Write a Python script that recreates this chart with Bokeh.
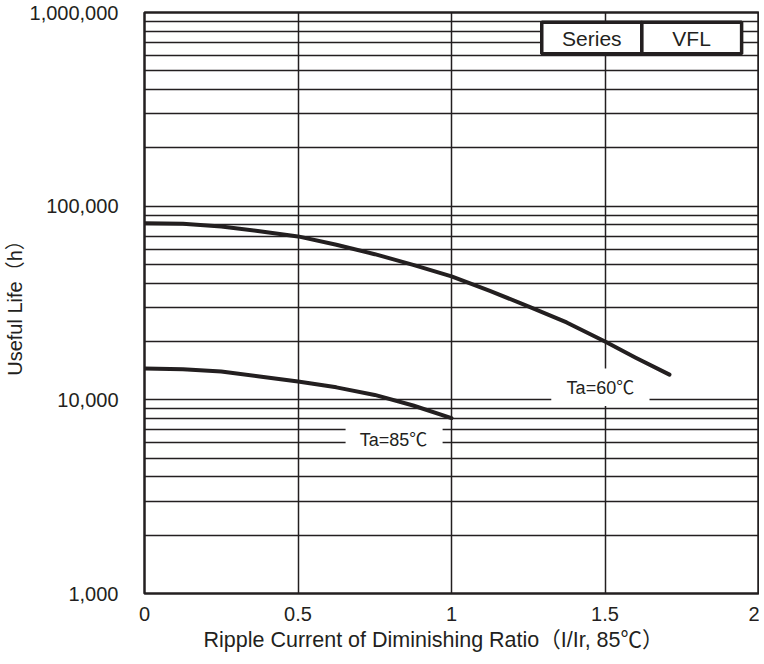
from bokeh.plotting import figure
from bokeh.models import FixedTicker, Label, BoxAnnotation, NumeralTickFormatter, Title
from bokeh.embed import file_html
from bokeh.resources import INLINE

# ---- data ----
ratio_60 = [0, 0.125, 0.25, 0.375, 0.5, 0.625, 0.75, 0.875, 1.0, 1.125, 1.25, 1.375, 1.5, 1.6, 1.71]
life_60 = [81700, 81100, 78600, 74300, 69800, 63200, 56500, 49800, 43400, 36500, 30400, 25100, 20000, 16500, 13500]

ratio_85 = [0, 0.125, 0.25, 0.375, 0.5, 0.625, 0.75, 0.875, 1.0]
life_85 = [14500, 14400, 14000, 13200, 12450, 11600, 10600, 9350, 8050]

x_ticks = [0, 0.5, 1, 1.5, 2]
y_ticks = [1000, 10000, 100000, 1000000]
y_minor_ticks = [m * d for d in (1000, 10000, 100000) for m in range(2, 10)]

series_name = "Series"
series_value = "VFL"
label_60 = "Ta=60℃"
label_85 = "Ta=85℃"
x_title = "Ripple Current of Diminishing Ratio（I/Ir, 85℃）"
y_title = "Useful Life（h）"

INK = "#231f20"
FONT = "Liberation Sans, Noto Sans CJK JP"
FS = "20px"

p = figure(frame_width=614, frame_height=581, y_axis_type="log",
           x_range=(0, 2), y_range=(1000, 1000000),
           output_backend="svg", toolbar_location=None,
           min_border_left=140, min_border_top=12, min_border_right=1, min_border_bottom=10)

p.background_fill_color = "white"
p.border_fill_color = "white"
p.outline_line_color = INK
p.outline_line_width = 2.5

# axes
p.xaxis.ticker = FixedTicker(ticks=x_ticks)
p.xaxis.formatter = NumeralTickFormatter(format="0.[0]")
p.yaxis.ticker = FixedTicker(ticks=y_ticks, minor_ticks=y_minor_ticks)
p.yaxis.formatter = NumeralTickFormatter(format="0,0")
for ax in (p.xaxis, p.yaxis):
    ax.axis_line_color = None
    ax.major_tick_line_color = None
    ax.minor_tick_line_color = None
    ax.major_tick_in = 0
    ax.major_tick_out = 0
    ax.minor_tick_in = 0
    ax.minor_tick_out = 0
    ax.major_label_text_font = FONT
    ax.major_label_text_font_size = FS
    ax.major_label_text_color = INK
    ax.axis_label_text_font = FONT
    ax.axis_label_text_font_size = FS
    ax.axis_label_text_font_style = "normal"
    ax.axis_label_text_color = INK
p.xaxis.major_label_standoff = 13
p.yaxis.major_label_standoff = 26
p.yaxis.axis_label = y_title
p.yaxis.axis_label_standoff = 1

# x axis title, placed like the reference (a little left of centre)
p.add_layout(Title(text=x_title, align="left", offset=59, standoff=5,
                   text_font=FONT, text_font_size="21.5px", text_font_style="normal",
                   text_color=INK), "below")

# grid
p.xgrid.grid_line_color = INK
p.xgrid.grid_line_width = 1.5
p.ygrid.grid_line_color = INK
p.ygrid.grid_line_width = 1.5
p.ygrid.minor_grid_line_color = INK
p.ygrid.minor_grid_line_width = 1.5

# curves
p.line(ratio_60, life_60, line_color=INK, line_width=4, line_cap="round", line_join="round")
p.line(ratio_85, life_85, line_color=INK, line_width=4, line_cap="round", line_join="round")

# white boxes behind the curve labels
p.add_layout(BoxAnnotation(left=1.325, right=1.645, top=14500, bottom=9300,
                           fill_color="white", fill_alpha=1, line_color=None))
p.add_layout(BoxAnnotation(left=0.655, right=0.971, top=7735, bottom=5225,
                           fill_color="white", fill_alpha=1, line_color=None))
p.add_layout(Label(x=1.485, y=11460, text=label_60, text_align="center", text_baseline="middle",
                   text_font=FONT, text_font_size="18px", text_color=INK))
p.add_layout(Label(x=0.811, y=6170, text=label_85, text_align="center", text_baseline="middle",
                   text_font=FONT, text_font_size="18px", text_color=INK))

# series box
p.add_layout(BoxAnnotation(left=1.294, right=1.620, top=891000, bottom=612000,
                           fill_color="white", fill_alpha=1, line_color=INK, line_alpha=1,
                           line_width=3.5))
p.add_layout(BoxAnnotation(left=1.620, right=1.945, top=891000, bottom=612000,
                           fill_color="white", fill_alpha=1, line_color=INK, line_alpha=1,
                           line_width=3.5))
p.add_layout(Label(x=1.457, y=738000, text=series_name, text_align="center", text_baseline="middle",
                   text_font=FONT, text_font_size="21px", text_color=INK))
p.add_layout(Label(x=1.782, y=738000, text=series_value, text_align="center", text_baseline="middle",
                   text_font=FONT, text_font_size="21px", text_color=INK))

open("out.html", "w").write(file_html(p, INLINE))
